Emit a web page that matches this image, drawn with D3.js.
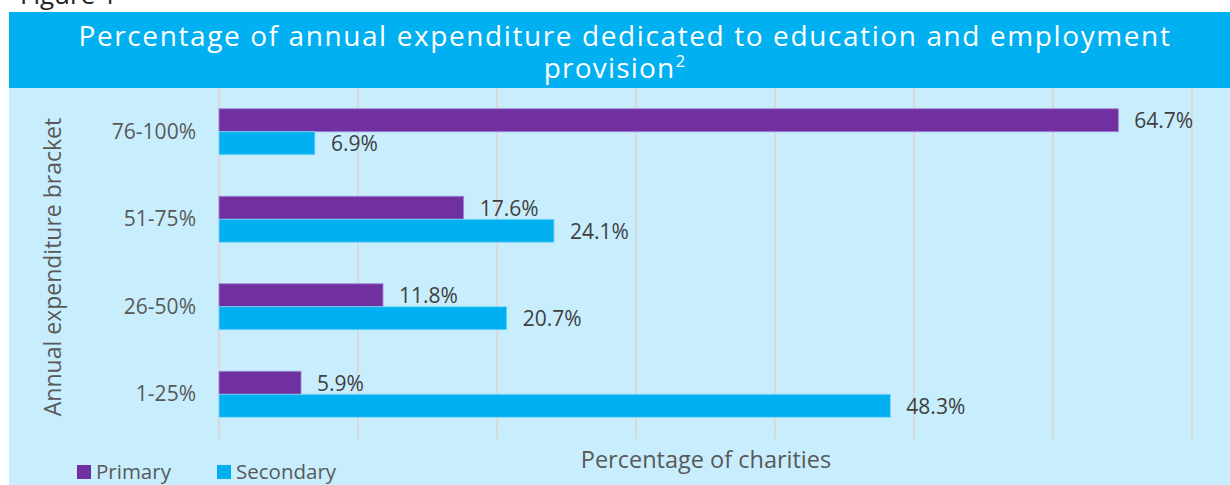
<!DOCTYPE html>
<html>
<head>
<meta charset="utf-8">
<script src="https://cdn.jsdelivr.net/npm/d3@7"></script>
<style>
  body { margin: 0; background: #fff; }
  svg { display: block; }
</style>
</head>
<body>
<div class="chart"></div>
<script>
// data
const categories = ["76-100%", "51-75%", "26-50%", "1-25%"];
const seriesNames = ["Primary", "Secondary"];
const primary = [64.7, 17.6, 11.8, 5.9];
const secondary = [6.9, 24.1, 20.7, 48.3];
const xTicks = [0, 10, 20, 30, 40, 50, 60, 70];

const colors = { Primary: "#7030A0", Secondary: "#00B0F0" };

const width = 1230;
const height = 485;
const margin = { top: 88, right: 38, bottom: 47, left: 219 };
const iWidth = width - margin.left - margin.right;
const iHeight = height - margin.top - margin.bottom;

const rows = categories.map((c, i) => ({ cat: c, Primary: primary[i], Secondary: secondary[i] }));

const svg = d3.select(".chart")
  .append("svg")
  .attr("width", width)
  .attr("height", height);

// clipped caption from the page above
svg.append("text")
  .attr("x", 20)
  .attr("y", 4)
  .attr("font-family", "Open Sans")
  .attr("font-size", 26)
  .attr("fill", "#222")
  .text("Figure 1");

// panels
svg.append("rect")
  .attr("x", 9).attr("y", 88)
  .attr("width", width - 9).attr("height", height - 88)
  .attr("fill", "#C8EEFD");

svg.append("rect")
  .attr("x", 9).attr("y", 12)
  .attr("width", width - 9).attr("height", 76)
  .attr("fill", "#00B0F0");

svg.append("text")
  .attr("x", 625).attr("y", 46)
  .attr("text-anchor", "middle")
  .attr("font-family", "Open Sans")
  .attr("font-size", 28)
  .attr("letter-spacing", 1.6)
  .attr("fill", "#fff")
  .text("Percentage of annual expenditure dedicated to education and employment");

const t2 = svg.append("text")
  .attr("x", 615).attr("y", 78)
  .attr("text-anchor", "middle")
  .attr("font-family", "Open Sans")
  .attr("font-size", 28)
  .attr("letter-spacing", 1.2)
  .attr("fill", "#fff")
  .text("provision");
t2.append("tspan")
  .attr("dy", -11)
  .attr("font-size", 17)
  .text("2");

const g = svg.append("g")
  .attr("transform", `translate(${margin.left},${margin.top})`);

const x = d3.scaleLinear()
  .domain([0, 70])
  .range([0, iWidth]);

const y = d3.scaleBand()
  .domain(categories)
  .range([0, iHeight]);

const yInner = d3.scaleBand()
  .domain(seriesNames)
  .range([(y.bandwidth() - 46) / 2, (y.bandwidth() + 46) / 2]);

// gridlines
g.selectAll("line.grid")
  .data(xTicks)
  .join("line")
  .attr("class", "grid")
  .attr("x1", d => x(d)).attr("x2", d => x(d))
  .attr("y1", 0).attr("y2", iHeight + 1)
  .attr("stroke", "#D9D9D9")
  .attr("stroke-width", 2);

// category labels
g.selectAll("text.cat")
  .data(categories)
  .join("text")
  .attr("class", "cat")
  .attr("x", -23)
  .attr("y", d => y(d) + y.bandwidth() / 2 + 7)
  .attr("text-anchor", "end")
  .attr("font-family", "Open Sans")
  .attr("font-size", 21)
  .attr("fill", "#595959")
  .text(d => d);

const groups = g.selectAll("g.row")
  .data(rows)
  .join("g")
  .attr("class", "row")
  .attr("transform", d => `translate(0,${y(d.cat)})`);

groups.selectAll("rect")
  .data(d => seriesNames.map(s => ({ s, v: d[s] })))
  .join("rect")
  .attr("x", 0)
  .attr("y", d => yInner(d.s))
  .attr("width", d => x(d.v))
  .attr("height", yInner.bandwidth())
  .attr("fill", d => colors[d.s])
  .attr("stroke", d => d.s === "Primary" ? "#A08AD8" : "#7FD8F7")
  .attr("stroke-width", 0.8);

groups.selectAll("text.val")
  .data(d => seriesNames.map(s => ({ s, v: d[s] })))
  .join("text")
  .attr("class", "val")
  .attr("x", d => x(d.v) + 16)
  .attr("y", d => yInner(d.s) + yInner.bandwidth() / 2 + 8)
  .attr("font-family", "Open Sans")
  .attr("font-size", 21)
  .attr("fill", "#404040")
  .text(d => d.v.toFixed(1) + "%");

// axis titles
svg.append("text")
  .attr("x", 706)
  .attr("y", 468)
  .attr("text-anchor", "middle")
  .attr("font-family", "Open Sans")
  .attr("font-size", 23.5)
  .attr("fill", "#595959")
  .text("Percentage of charities");

svg.append("text")
  .attr("transform", "translate(61,267) rotate(-90)")
  .attr("text-anchor", "middle")
  .attr("font-family", "Open Sans")
  .attr("font-size", 23)
  .attr("fill", "#595959")
  .text("Annual expenditure bracket");

// legend
const legend = svg.selectAll("g.legend")
  .data(seriesNames)
  .join("g")
  .attr("class", "legend")
  .attr("transform", (d, i) => `translate(${77 + i * 140},465)`);

legend.append("rect")
  .attr("width", 14).attr("height", 14)
  .attr("fill", d => colors[d]);

legend.append("text")
  .attr("x", 19)
  .attr("y", 14)
  .attr("font-family", "Open Sans")
  .attr("font-size", 20.5)
  .attr("fill", "#595959")
  .text(d => d);
</script>
</body>
</html>
